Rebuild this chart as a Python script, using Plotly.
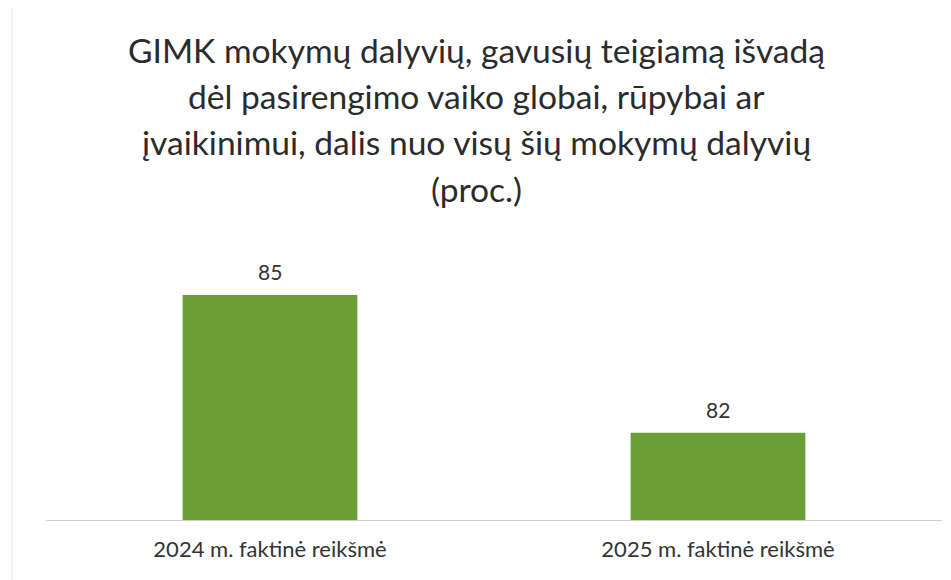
import plotly.graph_objects as go

categories = ["2024 m. faktinė reikšmė", "2025 m. faktinė reikšmė"]
values = [85, 82]

title_lines = [
    "GIMK mokymų dalyvių, gavusių teigiamą išvadą",
    "dėl pasirengimo vaiko globai, rūpybai ar",
    "įvaikinimui, dalis nuo visų šių mokymų dalyvių",
    "(proc.)",
]

fig = go.Figure()
fig.add_trace(go.Bar(
    x=categories,
    y=values,
    marker=dict(color="#6b9f35", line=dict(width=0)),
    width=0.39,
    hoverinfo="x+y",
))

# value labels above the bars
for c, v in zip(categories, values):
    fig.add_annotation(x=c, y=v, text=str(v), showarrow=False,
                       yanchor="middle", yshift=23,
                       font=dict(size=21, color="#333333"))

# title, one annotation per line so the spacing matches
title_y = [1.735, 1.565, 1.395, 1.222]
for line, yy in zip(title_lines, title_y):
    fig.add_annotation(xref="paper", yref="paper", x=0.48, y=yy, text=line,
                       showarrow=False, yanchor="middle",
                       font=dict(size=33.6, color="#2b2b2b"))

# faint frame edge on the left, as in the scanned chart
fig.add_shape(type="line", xref="paper", yref="paper",
              x0=-0.038, x1=-0.038, y0=-0.25, y1=1.93,
              line=dict(color="#e2e2e2", width=1))

fig.update_layout(
    width=943, height=572,
    margin=dict(l=38, r=9, t=241, b=60),
    paper_bgcolor="white",
    plot_bgcolor="white",
    font=dict(family="Lato, Open Sans, sans-serif", color="#333333"),
    showlegend=False,
)
fig.update_xaxes(showline=True, linecolor="#d0d0d0", linewidth=1,
                 tickfont=dict(size=22, color="#333333"), ticks="",
                 ticklabelstandoff=10)
fig.update_yaxes(range=[80.1, 86], visible=False, showgrid=False)

fig.write_html("out.html")
